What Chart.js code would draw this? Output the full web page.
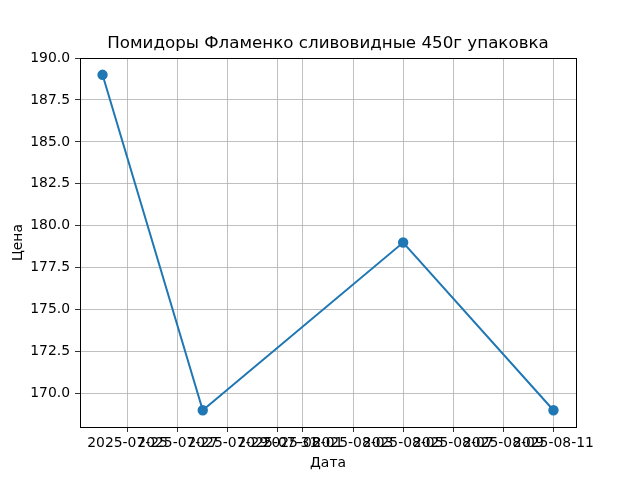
<!DOCTYPE html>
<html>
<head>
<meta charset="utf-8">
<script src="https://cdn.jsdelivr.net/npm/chart.js@4"></script>
<style>
  body { margin: 0; background: #fff; }
</style>
</head>
<body>
<canvas id="priceChart" width="640" height="480"></canvas>
<script>
const dates = ['2025-07-24', '2025-07-28', '2025-08-05', '2025-08-11'];
const prices = [189, 169, 179, 169];
const xTickLabels = ['2025-07-25', '2025-07-27', '2025-07-29', '2025-07-31', '2025-08-01',
    '2025-08-03', '2025-08-05', '2025-08-07', '2025-08-09', '2025-08-11'];
const yTickValues = [170, 172.5, 175, 177.5, 180, 182.5, 185, 187.5, 190];

function toDay(s) {
    let p = s.split('-');
    return Date.UTC(+p[0], +p[1] - 1, +p[2]) / 86400000;
}

function fromDay(v) {
    return new Date(Math.round(v) * 86400000).toISOString().slice(0, 10);
}

const points = dates.map((d, i) => ({ x: toDay(d), y: prices[i] }));
const xFirst = toDay(dates[0]);
const xLast = toDay(dates[dates.length - 1]);
const xPad = (xLast - xFirst) * 0.05;

const font = { family: 'DejaVu Sans', size: 13.9 };

// рамка вокруг области графика, как у matplotlib
const boxPlugin = {
    id: 'box',
    afterDraw(chart) {
        const a = chart.chartArea;
        const ctx = chart.ctx;
        ctx.save();
        ctx.strokeStyle = '#000';
        ctx.lineWidth = 1;
        ctx.strokeRect(Math.round(a.left) + 0.5, Math.round(a.top) + 0.5,
            Math.round(a.right - a.left), Math.round(a.bottom - a.top));
        ctx.restore();
    }
};

Chart.defaults.font.family = 'DejaVu Sans';
Chart.defaults.color = '#000';

new Chart(document.getElementById('priceChart'), {
    type: 'line',
    data: {
        datasets: [{
            data: points,
            borderColor: '#1f77b4',
            backgroundColor: '#1f77b4',
            borderWidth: 2,
            pointRadius: 4.2,
            pointHoverRadius: 4.2,
            tension: 0
        }]
    },
    options: {
        responsive: false,
        animation: false,
        layout: { padding: { left: 0, right: 64, top: 0, bottom: 0 } },
        plugins: {
            legend: { display: false },
            tooltip: { enabled: false },
            title: {
                display: true,
                fullSize: false,
                text: 'Помидоры Фламенко сливовидные 450г упаковка',
                color: '#000',
                font: { family: 'DejaVu Sans', size: 16.7, weight: 'normal' },
                padding: { top: 34, bottom: 4 }
            }
        },
        scales: {
            x: {
                type: 'linear',
                min: xFirst - xPad,
                max: xLast + xPad,
                afterBuildTicks: scale => {
                    scale.ticks = xTickLabels.map(t => ({ value: toDay(t) }));
                },
                afterFit: scale => { scale.height = 53; },
                ticks: {
                    autoSkip: false,
                    maxRotation: 0,
                    minRotation: 0,
                    padding: 3,
                    font: font,
                    color: '#000',
                    callback: v => fromDay(v)
                },
                grid: { color: '#b0b0b0', lineWidth: 0.8, tickColor: '#000', tickLength: 5 },
                border: { display: false },
                title: { display: true, text: 'Дата', font: font, color: '#000', padding: { top: 0, bottom: 8 } }
            },
            y: {
                min: 168,
                max: 190,
                afterBuildTicks: scale => {
                    scale.ticks = yTickValues.map(v => ({ value: v }));
                },
                afterFit: scale => { scale.width = 80; },
                ticks: {
                    padding: 5,
                    font: font,
                    color: '#000',
                    callback: v => v.toFixed(1)
                },
                grid: { color: '#b0b0b0', lineWidth: 0.8, tickColor: '#000', tickLength: 5 },
                border: { display: false },
                title: { display: true, text: 'Цена', font: font, color: '#000', padding: { top: 10, bottom: 0 } }
            }
        }
    },
    plugins: [boxPlugin]
});
</script>
</body>
</html>
